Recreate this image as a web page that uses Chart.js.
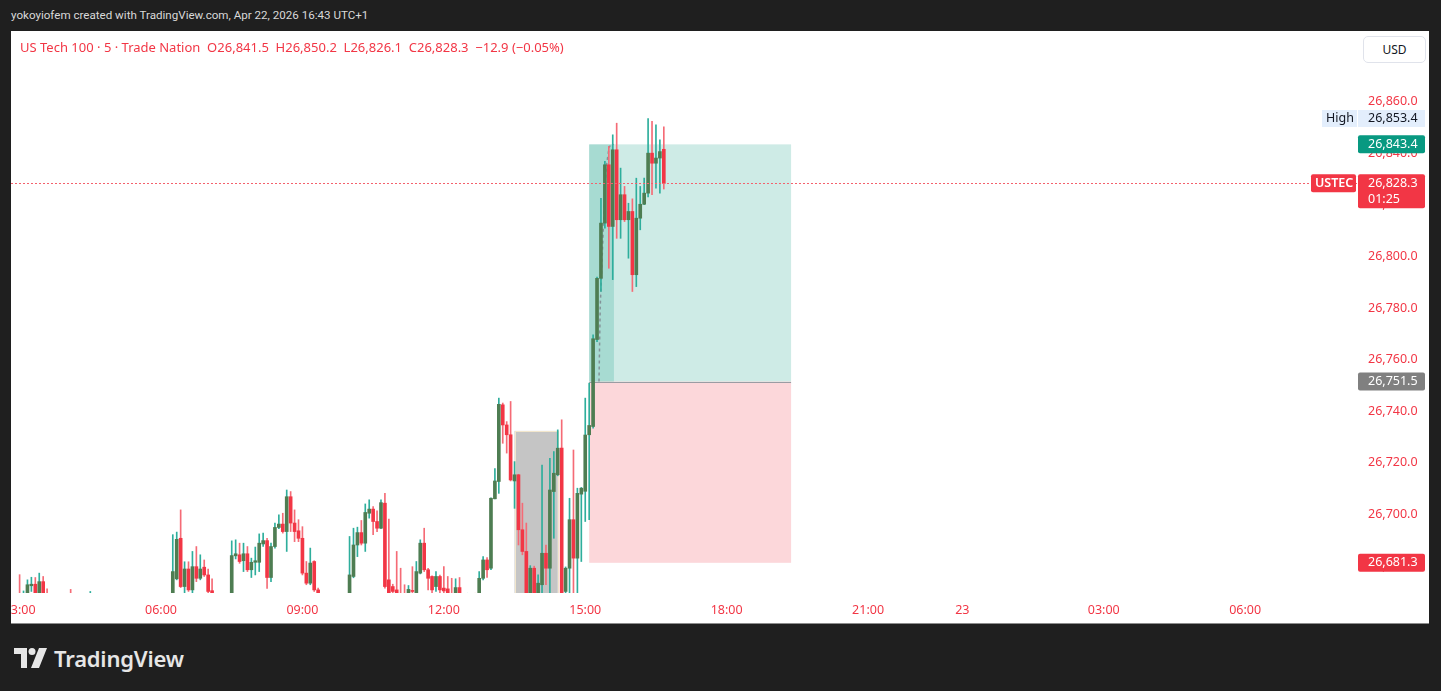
<!DOCTYPE html>
<html>
<head>
<meta charset="utf-8">
<script src="https://cdn.jsdelivr.net/npm/chart.js@4.4.1/dist/chart.umd.min.js"></script>
<style>
html,body{margin:0;padding:0;width:1441px;height:691px;overflow:hidden;background:#1f1f1f;font-family:"Noto Sans",Roboto,sans-serif}
#hdr{position:absolute;left:11px;top:6px;color:#d9d9d9;font-family:Roboto,sans-serif;font-size:11.6px;line-height:18px;white-space:nowrap}
#wrap{position:absolute;left:11px;top:31px;width:1418px;height:592px;background:#fff;border-bottom:1px solid #8c8c8c}
#cv{position:absolute;left:0;top:0}
#title{position:absolute;left:9px;top:7px;color:#f23645;font-size:13px;line-height:18px;white-space:pre}
#usd{position:absolute;left:1352px;top:5px;width:61px;height:25px;border:1px solid #e0e3eb;border-radius:5px;background:#fff;color:#131722;font-size:12px;line-height:25px;text-align:center}
#logo{position:absolute;left:14px;top:644px;height:28px;display:flex;align-items:center;color:#e6e6e6;font-size:22px;font-weight:600;letter-spacing:-0.2px}
#logo svg{margin-right:7px}
</style>
</head>
<body>
<div id="hdr">yokoyiofem created with TradingView.com, Apr 22, 2026 16:43 UTC+1</div>
<div id="wrap">
  <canvas id="cv" width="1418" height="592"></canvas>
  <div id="title">US Tech 100 · 5 · Trade Nation  O26,841.5  H26,850.2  L26,826.1  C26,828.3  −12.9 (−0.05%)</div>
  <div id="usd">USD</div>
</div>
<div id="logo"><svg width="33" height="20" viewBox="0 0 33 20"><path d="M0 0h13v20H7V6H0z" fill="#e6e6e6"/><circle cx="18" cy="3.5" r="3.5" fill="#e6e6e6"/><path d="M25 0h8l-8 20h-8z" fill="#e6e6e6"/></svg>TradingView</div>
<script>
// ---- data (5-minute bars; index 0 = 03:00 on Apr 22) ----
const candleIdx = [0,1,2,3,4,5,6,7,13,18,
  39,40,41,42,43,44,45,46,47,48,49,
  54,55,56,57,58,59,60,61,62,63,64,65,66,67,68,69,70,71,72,73,74,75,76,
  84,85,86,87,88,89,90,91,92,93,94,95,96,97,98,99,100,101,102,103,104,105,106,107,108,109,110,111,112,114,116,
  117,118,119,120,121,122,123,124,125,126,127,128,129,130,131,132,133,134,135,136,137,138,139,140,141,142,143,144,
  145,146,147,148,149,150,151,152,153,154,155,156,157,158,159,160,161,162,163,164];
const openVals = [26668,26665,26669.3,26672.4,26673,26669,26674,26669,26668,26666,
  26666,26675.1,26690.8,26672.1,26678.9,26670.8,26679.8,26675.3,26679.6,26676.6,26670.5,
  26666,26684.0,26684.4,26682.1,26684.8,26678.6,26681.5,26681.5,26688.6,26689.9,26675.6,26687.6,26695,26696.3,26693.4,26706.9,26696.7,26693.7,26690.8,26677.3,26673.4,26681.8,26670.8,
  26665,26676,26688.2,26693,26688.9,26700.5,26702.1,26697.3,26694.7,26704.4,26674.7,26672.1,26670.8,26668,26668,26667,26670.6,26667,26677.3,26688.9,26678.6,26676,26672.1,26676,26671.5,26671.2,26668,26666,26671.7,26665,26667,
  26666,26675.3,26682.4,26679.2,26706.1,26712.8,26742.5,26734.7,26730.9,26713,26715.4,26694.1,26685.7,26666,26679.2,26666,26672.8,26685,26679.2,26708.9,26715.4,26725.7,26670.2,26679.2,26698,26683.1,26707.9,26709,
  26730.9,26734.1,26767.8,26791.5,26812.9,26835.5,26811.6,26841.3,26814.2,26823.9,26814.2,26817.4,26792.9,26814.8,26820.2,26824.5,26840,26836.1,26838.1,26841.5];
const highVals = [26676.7,26670.4,26674.7,26675.7,26675.6,26677.3,26676,26671.2,26671.0,26670.2,
  26692.2,26693.2,26701.8,26681.7,26681.7,26685.7,26687.6,26684.4,26682.4,26678.9,26675.1,
  26689.8,26690.2,26688.9,26688.9,26687.6,26683.1,26687.4,26692.5,26692.8,26690.8,26688.9,26696.7,26699.9,26700.5,26709.5,26708.9,26701.8,26698,26695.3,26681.8,26687,26682.1,26671.5,
  26691.5,26694.7,26695.1,26697.7,26704.1,26705.7,26703.1,26701.4,26705.7,26708.2,26698.2,26673,26685.7,26679.2,26672.8,26672.5,26679.8,26681.8,26690.2,26694.7,26679.2,26676.3,26677.9,26676.5,26679.8,26676,26675.3,26675.1,26675.6,26669.5,26669.5,
  26677.9,26683.7,26683.3,26706.5,26717.8,26745.1,26743.2,26736,26743.8,26720.5,26715.6,26704.4,26696.7,26680.2,26680,26676.6,26719.2,26688.2,26721.8,26724.4,26732.8,26736.7,26679.7,26706.3,26725,26710.2,26710.5,26745.1,
  26750.9,26769.6,26792,26822.5,26836.8,26842.6,26847.1,26851.6,26834.2,26827.1,26820.6,26822.3,26830.3,26827.1,26830.3,26853.4,26852.3,26851,26845.2,26850.2];
const lowVals = [26662,26662,26668,26670.2,26666,26666,26666,26664,26663,26663,
  26662,26674.7,26671.7,26669.1,26670.2,26667,26674,26674.7,26676,26669.5,26664,
  26663,26682.8,26681.1,26677.9,26677.9,26675.6,26676.6,26677.9,26687.6,26671.4,26674,26687,26694.5,26692.8,26685.7,26693.4,26689.5,26689.5,26676.6,26672.8,26672.8,26670.2,26662,
  26662,26675.5,26683.7,26688.2,26685.7,26698.6,26692.2,26693.4,26694.5,26671.5,26662,26668,26665,26664,26664,26664,26668,26664,26677,26677.9,26670.8,26669.5,26670.2,26669.5,26665,26664,26664,26663,26663,26663,26663,
  26663,26674.7,26675.6,26678.6,26706,26708.2,26727.6,26723.8,26713,26702.4,26688.2,26684.4,26664,26663,26663,26663,26663,26672.8,26663,26690.8,26715,26663,26663,26663,26669.5,26664,26681.8,26697.3,
  26698,26733.5,26767,26786.4,26810.9,26795.4,26791,26807,26807,26813.5,26799.3,26786.4,26788.3,26810.3,26820,26823,26823.9,26826.4,26824.5,26826.1];
const closeVals = [26666,26667,26672.8,26673.0,26669.2,26674,26669.1,26667,26666,26668,
  26677.9,26690.4,26672.1,26678.9,26670.8,26679.8,26675.3,26678.9,26676.6,26670.2,26666,
  26684.1,26684.8,26681.8,26684.8,26678.6,26681.5,26682.1,26688.9,26689.9,26675.6,26687.6,26695,26696.3,26693.4,26706.9,26696.7,26693.4,26690.8,26677.3,26673.4,26681.2,26670.8,26665,
  26676.6,26688.2,26693,26688.9,26700.8,26702.1,26697.3,26694.7,26704.6,26672.1,26666,26670.2,26667,26666,26666,26671,26670.2,26677.9,26688.9,26678.6,26675.3,26670.8,26676,26670.8,26670.4,26666,26667,26671.7,26666,26667,26665,
  26675.3,26682.4,26678.6,26706.3,26713,26742.7,26734.7,26730.9,26713.4,26715.4,26694.1,26685.7,26669.5,26679.2,26666,26673.4,26685,26679.2,26709.5,26716,26725.7,26666,26679.2,26698,26683.1,26708.2,26710.2,26730.8,
  26734.5,26768.1,26791.5,26812.9,26835.5,26811.6,26841.3,26814.2,26823.9,26814.2,26817.4,26792.9,26814.8,26820.2,26824.5,26840,26836.1,26838.1,26840.6,26828.3];

const timeTickIdx = [0,36,72,108,144,180,216,240,276,312];
const timeTickLabels = ['03:00','06:00','09:00','12:00','15:00','18:00','21:00','23','03:00','06:00'];
const priceTickStep = 20;
const lastPrice = 26828.3;
const lastCountdown = '01:25';
const symbolName = 'USTEC';
const sessionHigh = 26853.4;
const posEntry = 26751.5, posTarget = 26843.4, posStop = 26681.3;
const posIdxRange = [145, 196.4];
const posHitIdx = 151.3;
const posPathIdx = [147.5, 147.8, 148.6, 149.3, 150.1, 151.3];
const posPathPrice = [26751.5, 26779.9, 26810.9, 26834.2, 26842.6, 26843.4];
const rectIdxRange = [126, 137];
const rectTop = 26732.4;
const rectBottom = 26600;

// ---- derived ----
const isUp = candleIdx.map((_, k) => closeVals[k] >= openVals[k]);
const wickData = candleIdx.map((x, k) => ({x, y: [lowVals[k], highVals[k]]}));
const bodyData = candleIdx.map((x, k) => ({x, y: [openVals[k], closeVals[k]]}));

const UP_BODY = '#4e7d52', UP_WICK = '#2eae9c', DN_BODY = '#f23645', DN_WICK = '#f56b76';
const RED = '#f23645';
const fmt = v => v.toLocaleString('en-US', {minimumFractionDigits: 1, maximumFractionDigits: 1});

function roundBox(ctx, x, y, w, h, r, color) {
  ctx.fillStyle = color;
  ctx.beginPath();
  ctx.roundRect(x, y, w, h, r);
  ctx.fill();
}

const drawings = {
  id: 'drawings',
  beforeDatasetsDraw(chart) {
    const {ctx, chartArea: a, scales: {x, y}} = chart;
    ctx.save();
    ctx.beginPath();
    ctx.rect(a.left, a.top, a.right - a.left, a.bottom - a.top);
    ctx.clip();
    const rx1 = x.getPixelForValue(rectIdxRange[0]), rx2 = x.getPixelForValue(rectIdxRange[1]);
    const ry1 = y.getPixelForValue(rectTop), ry2 = y.getPixelForValue(rectBottom);
    ctx.fillStyle = 'rgba(128,128,128,0.46)';
    ctx.fillRect(rx1, ry1, rx2 - rx1, ry2 - ry1);
    ctx.strokeStyle = '#f2e6cc';
    ctx.lineWidth = 1;
    ctx.strokeRect(Math.round(rx1) + 0.5, Math.round(ry1) + 0.5, Math.round(rx2 - rx1), ry2 - ry1);
    const px1 = x.getPixelForValue(posIdxRange[0]), px2 = x.getPixelForValue(posIdxRange[1]);
    const yT = y.getPixelForValue(posTarget), yE = y.getPixelForValue(posEntry), yS = y.getPixelForValue(posStop);
    ctx.fillStyle = 'rgba(8,153,129,0.2)';
    ctx.fillRect(px1, yT, px2 - px1, yE - yT);
    ctx.fillStyle = 'rgba(242,54,69,0.2)';
    ctx.fillRect(px1, yE, px2 - px1, yS - yE);
    const hx = x.getPixelForValue(posHitIdx);
    ctx.fillStyle = 'rgba(8,153,129,0.2)';
    ctx.fillRect(px1, yT, hx - px1, yE - yT);
    ctx.strokeStyle = '#9a9ca3';
    ctx.beginPath();
    ctx.moveTo(px1, Math.round(yE) + 0.5);
    ctx.lineTo(px2, Math.round(yE) + 0.5);
    ctx.stroke();
    ctx.strokeStyle = 'rgba(120,123,134,0.75)';
    ctx.setLineDash([3, 3]);
    ctx.lineWidth = 1.5;
    ctx.beginPath();
    posPathIdx.forEach((v, k) => {
      const px = x.getPixelForValue(v), py = y.getPixelForValue(posPathPrice[k]);
      k ? ctx.lineTo(px, py) : ctx.moveTo(px, py);
    });
    ctx.stroke();
    ctx.restore();
  },
  afterDatasetsDraw(chart) {
    const {ctx, chartArea: a, scales: {y}} = chart;
    const ly = Math.round(y.getPixelForValue(lastPrice)) + 0.5;
    ctx.save();
    ctx.strokeStyle = '#f4606c';
    ctx.lineWidth = 1;
    ctx.setLineDash([2, 2]);
    ctx.beginPath();
    ctx.moveTo(a.left, ly);
    ctx.lineTo(a.right, ly);
    ctx.stroke();
    ctx.restore();
  },
  afterDraw(chart) {
    const {ctx, chartArea: a, scales: {y}} = chart;
    const bx = a.right + 1, bw = 67, tx = a.right + 11;
    ctx.save();
    ctx.font = '12.5px "Noto Sans"';
    ctx.textBaseline = 'middle';
    let cy = y.getPixelForValue(sessionHigh);
    roundBox(ctx, a.right - 35, cy - 8.5, 35, 17, 0, '#e3eefc');
    roundBox(ctx, bx, cy - 8.5, bw, 17, 0, '#e3eefc');
    ctx.fillStyle = '#131722';
    ctx.fillText('High', a.right - 31, cy);
    ctx.fillText(fmt(sessionHigh), tx, cy);
    cy = y.getPixelForValue(posTarget);
    roundBox(ctx, bx, cy - 9, bw, 18, 2, '#089981');
    ctx.fillStyle = '#fff';
    ctx.fillText(fmt(posTarget), tx, cy);
    cy = y.getPixelForValue(lastPrice);
    roundBox(ctx, a.right - 46, cy - 9, 45, 18, 2, RED);
    roundBox(ctx, bx, cy - 9, bw, 34, 2, RED);
    ctx.fillStyle = '#fff';
    ctx.font = '600 12.5px "Noto Sans"';
    ctx.fillText(symbolName, a.right - 42, cy);
    ctx.font = '12.5px "Noto Sans"';
    ctx.fillText(fmt(lastPrice), tx, cy);
    ctx.fillText(lastCountdown, tx, cy + 16);
    cy = y.getPixelForValue(posEntry);
    roundBox(ctx, bx, cy - 9, bw, 18, 2, '#808080');
    ctx.fillStyle = '#fff';
    ctx.fillText(fmt(posEntry), tx, cy);
    cy = y.getPixelForValue(posStop);
    roundBox(ctx, bx, cy - 9, bw, 18, 2, RED);
    ctx.fillStyle = '#fff';
    ctx.fillText(fmt(posStop), tx, cy);
    ctx.restore();
  }
};

new Chart(document.getElementById('cv'), {
  type: 'bar',
  data: {
    datasets: [
      {label: 'wick', data: wickData, grouped: false, barThickness: 1, borderWidth: 0,
       backgroundColor: c => isUp[c.dataIndex] ? UP_WICK : DN_WICK, order: 2},
      {label: 'body', data: bodyData, grouped: false, barThickness: 3, borderWidth: 0, minBarLength: 1,
       backgroundColor: c => isUp[c.dataIndex] ? UP_BODY : DN_BODY, order: 1}
    ]
  },
  options: {
    responsive: false,
    animation: false,
    events: [],
    layout: {padding: 0},
    plugins: {legend: {display: false}, tooltip: {enabled: false}},
    scales: {
      x: {
        type: 'linear', offset: false, min: -2.19, max: 340.47,
        grid: {display: false, offset: false}, border: {display: false},
        afterBuildTicks: s => { s.ticks = timeTickIdx.map(v => ({value: v})); },
        afterFit: s => { s.height = 30; s.paddingLeft = 0; s.paddingRight = 0; },
        ticks: {
          autoSkip: false, maxRotation: 0, padding: 2, color: RED,
          font: {family: 'Noto Sans', size: 12.5},
          callback: v => timeTickLabels[timeTickIdx.indexOf(v)]
        }
      },
      y: {
        position: 'right', min: 26669.6, max: 26887.32,
        grid: {display: false, drawTicks: false}, border: {display: false},
        afterBuildTicks: s => {
          const t = [];
          for (let v = Math.ceil(s.min / priceTickStep) * priceTickStep; v <= s.max - 10; v += priceTickStep) t.push({value: v});
          s.ticks = t;
        },
        afterFit: s => { s.width = 72; s.paddingTop = 0; s.paddingBottom = 0; },
        ticks: {padding: 11, color: RED, font: {family: 'Noto Sans', size: 12.5}, callback: v => fmt(v)}
      }
    }
  },
  plugins: [drawings]
});
</script>
</body>
</html>
